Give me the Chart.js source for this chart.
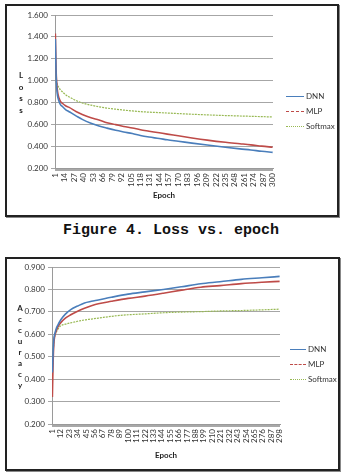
<!DOCTYPE html>
<html><head><meta charset="utf-8">
<script src="https://cdn.jsdelivr.net/npm/chart.js@4/dist/chart.umd.min.js"></script>
<style>
html,body{margin:0;padding:0;background:#fff;width:342px;height:473px;overflow:hidden;position:relative;font-family:Lato,"Open Sans",sans-serif;}
.frame{position:absolute;box-sizing:border-box;border:2px solid #222;box-shadow:1px 1px 0 #888;background:#fff;}
.frame canvas{position:absolute;left:0;top:0;}
.ytitle{position:absolute;font:bold 8px Lato,sans-serif;color:#222;text-align:center;width:10px;}
.ytitle span{position:absolute;left:0;width:10px;transform:translateY(-50%);}
.leg{position:absolute;font:8px Lato,sans-serif;color:#333;}
.leg .row{position:absolute;left:0;white-space:nowrap;}
.leg .ln{position:absolute;left:0;height:0;top:0;}
.leg .tx{position:absolute;top:-5px;line-height:10px;}
.cap{position:absolute;left:0;width:342px;top:222px;text-align:center;font:bold 15px "Liberation Mono","DejaVu Sans Mono",monospace;color:#111;letter-spacing:0px;}
</style></head><body>

<div class="frame" style="left:5px;top:4px;width:334px;height:213px;">
  <canvas id="c1" width="330" height="209"></canvas>
</div>
<div class="ytitle" style="left:16px;top:0;">
  <span style="top:75px">L</span><span style="top:87px">o</span><span style="top:98px">s</span><span style="top:110px">s</span>
</div>
<div class="leg" style="left:286px;top:0;">
  <div class="row" style="top:96px"><div class="ln" style="width:18px;border-top:1.5px solid #4a7ebb"></div><div class="tx" style="left:20px">DNN</div></div>
  <div class="row" style="top:111px"><div class="ln" style="width:18px;border-top:1.5px dashed #be4b48"></div><div class="tx" style="left:20px">MLP</div></div>
  <div class="row" style="top:126px"><div class="ln" style="width:18px;border-top:1px dotted #98b954"></div><div class="tx" style="left:20px">Softmax</div></div>
</div>

<div class="cap">Figure 4. Loss vs. epoch</div>

<div class="frame" style="left:5px;top:257px;width:335px;height:214px;">
  <canvas id="c2" width="331" height="210"></canvas>
</div>
<div class="ytitle" style="left:15px;top:0;">
  <span style="top:308px">A</span><span style="top:319px">c</span><span style="top:330px">c</span><span style="top:341px">u</span><span style="top:352px">r</span><span style="top:363px">a</span><span style="top:374px">c</span><span style="top:385px">y</span>
</div>
<div class="leg" style="left:290px;top:0;">
  <div class="row" style="top:349px"><div class="ln" style="width:16px;border-top:1.5px solid #4a7ebb"></div><div class="tx" style="left:18px">DNN</div></div>
  <div class="row" style="top:364px"><div class="ln" style="width:16px;border-top:1.5px dashed #be4b48"></div><div class="tx" style="left:18px">MLP</div></div>
  <div class="row" style="top:379px"><div class="ln" style="width:16px;border-top:1px dotted #98b954"></div><div class="tx" style="left:18px">Softmax</div></div>
</div>

<script>
// ---------- Loss chart data ----------
const lossEpochs   = [1,2,3,4,6,8,11,15,20,30,38,50,61,72,84,95,107,118,130,144,155,170,189,210,235,255,270,285,300];
const lossDNN      = [1.38,1.05,0.92,0.86,0.81,0.78,0.76,0.735,0.715,0.675,0.645,0.61,0.585,0.565,0.545,0.53,0.515,0.497,0.483,0.47,0.458,0.445,0.428,0.41,0.39,0.375,0.365,0.353,0.343];
const lossMLP      = [1.43,1.10,0.97,0.90,0.84,0.81,0.79,0.77,0.755,0.715,0.69,0.66,0.64,0.615,0.597,0.58,0.566,0.55,0.537,0.522,0.51,0.495,0.475,0.455,0.435,0.422,0.412,0.40,0.39];
const lossSoftmax  = [1.17,1.01,0.98,0.96,0.935,0.915,0.895,0.87,0.85,0.815,0.795,0.775,0.76,0.748,0.738,0.73,0.722,0.716,0.711,0.707,0.703,0.698,0.692,0.686,0.68,0.676,0.673,0.67,0.667];
const lossTickLabels = [1,14,27,40,53,66,79,92,105,118,131,144,157,170,183,196,209,222,235,248,261,274,287,300];
const lossEpochCount = 300;
const lossYTicks = [0.2,0.4,0.6,0.8,1.0,1.2,1.4,1.6];

// ---------- Accuracy chart data ----------
const accEpochs  = [1,2,3,4,6,8,12,18,25,34,43,52,61,78,100,122,146,170,195,220,248,275,298];
const accDNN     = [0.43,0.53,0.58,0.60,0.625,0.64,0.665,0.69,0.71,0.726,0.74,0.747,0.753,0.765,0.779,0.789,0.80,0.812,0.825,0.834,0.845,0.852,0.858];
const accMLP     = [0.32,0.48,0.56,0.59,0.615,0.632,0.652,0.672,0.687,0.703,0.716,0.727,0.736,0.747,0.76,0.77,0.783,0.797,0.81,0.817,0.826,0.832,0.836];
const accSoftmax = [0.45,0.52,0.57,0.59,0.608,0.622,0.638,0.645,0.651,0.658,0.664,0.668,0.672,0.68,0.687,0.691,0.696,0.699,0.701,0.704,0.706,0.709,0.712];
const accTickLabels = [1,12,23,34,45,56,67,78,89,100,111,122,133,144,155,166,177,188,199,210,221,232,243,254,265,276,287,298];
const accEpochCount = 298;
const accYTicks = [0.2,0.3,0.4,0.5,0.6,0.7,0.8,0.9];

const seriesNames = ['DNN','MLP','Softmax'];
const seriesColors = ['#4a7ebb','#be4b48','#98b954'];

Chart.defaults.font.family = 'Lato, "Open Sans", sans-serif';
Chart.defaults.font.size = 8;
Chart.defaults.color = '#333';

function pts(xs, ys){ return xs.map((x,i)=>({x:x, y:ys[i]})); }

function makeChart(id, cfg){
  const ds = cfg.series.map((s,i)=>({
    label: seriesNames[i],
    data: pts(cfg.epochs, s),
    borderColor: seriesColors[i],
    borderWidth: i===2 ? 1.2 : 1.6,
    borderDash: i===2 ? [2,1] : [],
    pointRadius: 0,
    fill: false,
    cubicInterpolationMode: 'monotone'
  }));
  return new Chart(document.getElementById(id), {
    type: 'line',
    data: { datasets: ds },
    options: {
      responsive: false,
      animation: false,
      devicePixelRatio: 1,
      layout: { padding: cfg.padding },
      plugins: { legend: { display: false }, tooltip: { enabled: false } },
      scales: {
        x: {
          type: 'linear',
          min: 0.5, max: cfg.count + 0.5,
          afterBuildTicks: (sc) => { const t=[]; for(let e=1;e<=cfg.count;e++) t.push({value:e}); sc.ticks = t; },
          afterFit: (sc) => { sc.height = cfg.xHeight; },
          ticks: {
            autoSkip: false, minRotation: 90, maxRotation: 90, padding: 2,
            font: { size: 8 }, color: '#333',
            callback: (v) => cfg.tickLabels.includes(v) ? String(v) : ''
          },
          grid: { drawOnChartArea: false, drawTicks: true, tickLength: 3, color: '#a8a8a8' },
          border: { color: '#9a9a9a' },
          title: { display: true, text: 'Epoch', font: { size: 8, weight: 'bold' }, color: '#222', padding: { top: 0, bottom: 0 } }
        },
        y: {
          min: cfg.yTicks[0], max: cfg.yTicks[cfg.yTicks.length-1],
          afterBuildTicks: (sc) => { sc.ticks = cfg.yTicks.map(v=>({value:v})); },
          afterFit: (sc) => { sc.width = cfg.yWidth; },
          ticks: { font: { size: 8 }, color: '#333', padding: 3, callback: (v) => Number(v).toFixed(3) },
          grid: { color: '#a6a6a6', lineWidth: 1, tickLength: 4, drawTicks: true },
          border: { color: '#9a9a9a' }
        }
      }
    }
  });
}

makeChart('c1', {
  epochs: lossEpochs, series: [lossDNN, lossMLP, lossSoftmax], count: lossEpochCount,
  tickLabels: lossTickLabels, yTicks: lossYTicks,
  padding: { left: 0, top: 9, right: 64, bottom: 15 }, xHeight: 32, yWidth: 48
});
makeChart('c2', {
  epochs: accEpochs, series: [accDNN, accMLP, accSoftmax], count: accEpochCount,
  tickLabels: accTickLabels, yTicks: accYTicks,
  padding: { left: 0, top: 8, right: 58, bottom: 9 }, xHeight: 36, yWidth: 45
});
</script>
</body></html>
